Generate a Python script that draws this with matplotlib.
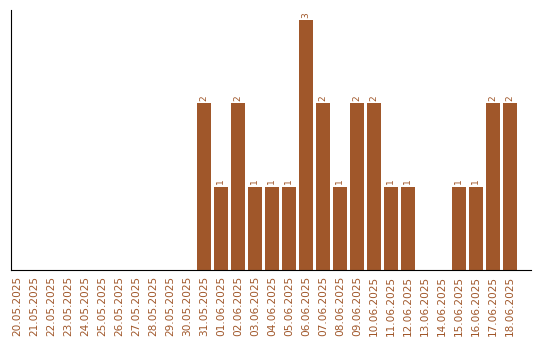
import matplotlib
matplotlib.use("Agg")
import matplotlib.pyplot as plt

# daily counts
dates = ["20.05.2025", "21.05.2025", "22.05.2025", "23.05.2025", "24.05.2025",
         "25.05.2025", "26.05.2025", "27.05.2025", "28.05.2025", "29.05.2025",
         "30.05.2025", "31.05.2025", "01.06.2025", "02.06.2025", "03.06.2025",
         "04.06.2025", "05.06.2025", "06.06.2025", "07.06.2025", "08.06.2025",
         "09.06.2025", "10.06.2025", "11.06.2025", "12.06.2025", "13.06.2025",
         "14.06.2025", "15.06.2025", "16.06.2025", "17.06.2025", "18.06.2025"]
counts = [0, 0, 0, 0, 0, 0, 0, 0, 0, 0,
          0, 2, 1, 2, 1, 1, 1, 3, 2, 1,
          2, 2, 1, 1, 0, 0, 1, 1, 2, 2]

bar_color = "#a0572a"

fig = plt.figure(figsize=(5.4, 3.4), dpi=100)
ax = fig.add_axes([10.5 / 540, 70 / 340, 520 / 540, 260 / 340])

x = range(len(dates))
ax.bar(x, counts, width=0.82, color=bar_color)

for i, c in enumerate(counts):
    if c > 0:
        ax.text(i, c + 0.03, str(c), rotation=90, ha="center", va="bottom",
                fontsize=6.5, color=bar_color)

ax.set_xlim(-0.38, 30.21)
ax.set_ylim(0, 3.12)
ax.set_xticks(list(x))
ax.set_xticklabels(dates, rotation=90, fontsize=7.6, color=bar_color)
ax.set_yticks([])
ax.tick_params(axis="x", length=0, pad=4)

ax.spines["top"].set_visible(False)
ax.spines["right"].set_visible(False)

fig.savefig("out.png", dpi=100)
